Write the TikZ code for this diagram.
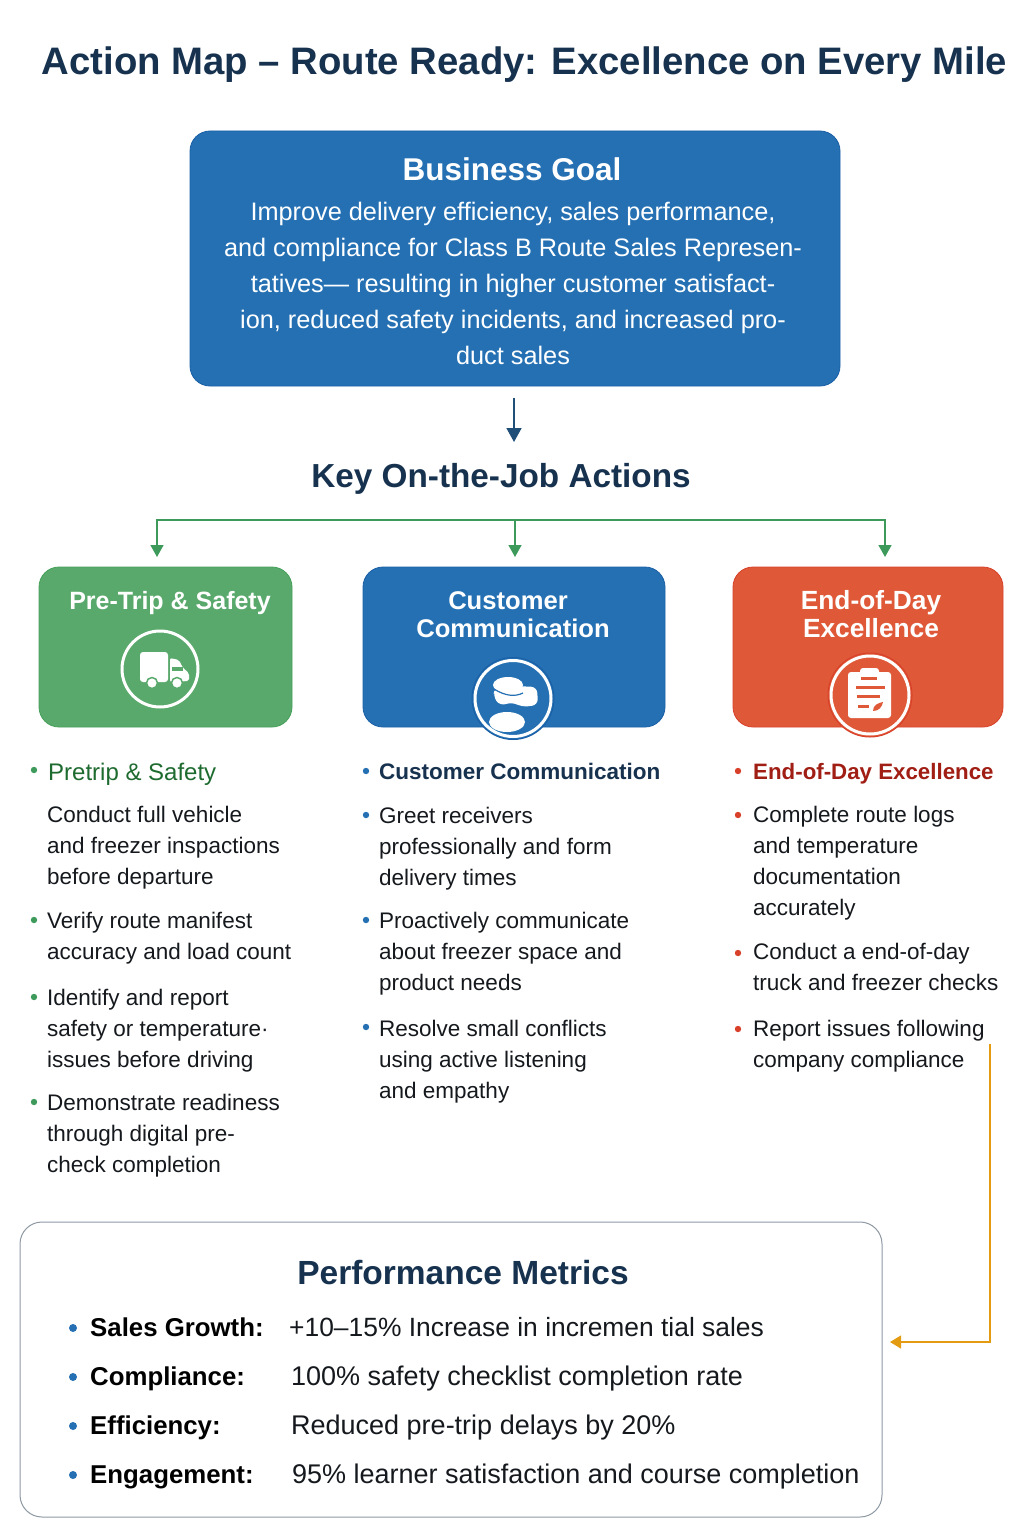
\documentclass[tikz,border=0pt]{standalone}
\usepackage{fontspec}
\setmainfont{Liberation Sans}
\usetikzlibrary{arrows.meta,calc}
\definecolor{navy}{HTML}{17324F}
\definecolor{anavy}{HTML}{1F4E79}
\definecolor{cblue}{HTML}{2470B3}
\definecolor{cbluee}{HTML}{1A5FA6}
\definecolor{cgreen}{HTML}{5AA96C}
\definecolor{cgreene}{HTML}{45A05A}
\definecolor{cred}{HTML}{DF5938}
\definecolor{crede}{HTML}{D8402A}
\definecolor{lgreen}{HTML}{3D9A5B}
\definecolor{dgreen}{HTML}{1E6B30}
\definecolor{dred}{HTML}{A01E14}
\definecolor{cgrey}{HTML}{8E99A3}
\definecolor{corange}{HTML}{E39C12}
\definecolor{bodyt}{HTML}{15191D}
\newcommand{\fs}[1]{\fontsize{#1}{#1}\selectfont}
\tikzset{
  card/.style={rounded corners=20,line width=0.8},
  ring/.style={draw=white,line width=3},
  item/.style={inner sep=0,anchor=north west,align=left,text=bodyt,font=\fontsize{22.5}{31}\selectfont},
  head/.style={inner sep=0,anchor=base west},
  met label/.style={inner sep=0,anchor=base west,font=\fs{25.8}\bfseries,text=black},
  met val/.style={inner sep=0,anchor=base west,font=\fs{27},text=bodyt},
  gline/.style={draw=lgreen,line width=1.5},
  garrow/.style={gline,-{Triangle[length=12,width=13]}},
}
\begin{document}
\begin{tikzpicture}[x=1pt,y=-1pt]
\useasboundingbox (0,0) rectangle (1024,1536);
\fill[white] (0,0) rectangle (1024,1536);
% title
\node[inner sep=0,anchor=base,font=\fs{38.3}\bfseries,text=navy] (title) at (524.5,75) {Action Map – Route Ready: Excellence on Every Mile};
% goal
\draw[card,fill=cblue,draw=cbluee] (190,131) rectangle (840,386);
\coordinate (goalbottom) at (514,398);
\node[inner sep=0,anchor=base,font=\fs{31.5}\bfseries,text=white] (goalhead) at (512,180) {Business Goal};
\node[inner sep=0,anchor=north,align=center,text=white,font=\fontsize{25.3}{36}\selectfont] (goaltext) at (513,202) {Improve delivery efficiency, sales performance,\\and compliance for Class B Route Sales Represen-\\tatives— resulting in higher customer satisfact-\\ion, reduced safety incidents, and increased pro-\\duct sales};
% key actions
\node[inner sep=0,anchor=base,font=\fs{33.3}\bfseries,text=navy] (keyhead) at (501,487) {Key On-the-Job Actions};
\coordinate (keytop) at (514,442);
\draw[anavy,line width=1.6,-{Triangle[length=14,width=15]}] (goalbottom) -- (keytop);
\coordinate (hub) at (515,520);
\coordinate (ta) at (157,557);
\coordinate (tb) at (515,557);
\coordinate (tc) at (885,557);
\draw[garrow] (hub) -| (ta);
\draw[garrow] (hub) -- (tb);
\draw[garrow] (hub) -| (tc);
% cards
\draw[card,fill=cgreen,draw=cgreene] (39,567) rectangle (292,727);
\draw[card,fill=cblue,draw=cbluee] (363,567) rectangle (665,727);
\draw[card,fill=cred,draw=crede] (733,567) rectangle (1003,727);
\node[inner sep=0,anchor=base,font=\fs{25}\bfseries,text=white] (ca) at (170,609) {Pre-Trip \& Safety};
\node[inner sep=0,anchor=north,align=center,font=\fontsize{25.6}{28}\bfseries\selectfont,text=white] (cb) at (513,591) {Customer\hspace*{10pt}\\Communication};
\node[inner sep=0,anchor=north,align=center,font=\fontsize{26.3}{28}\bfseries\selectfont,text=white] (cc) at (871,590) {End-of-Day\\Excellence};
% truck icon
\draw[ring] (160,669) circle (38);
\fill[white,rounded corners=3] (140,652) rectangle (168,682);
\fill[white,rounded corners=2] (170,658) -- (179,660) -- (183,668) -- (189,673) -- (189,681) -- (170,682) -- cycle;
\fill[cgreen] (172,667) rectangle (183,671);
\fill[white,draw=cgreen,line width=1.5] (152,683) circle (5.5);
\fill[white,draw=cgreen,line width=1.5] (177,683) circle (5.5);
% people icon
\fill[cblue,draw=cbluee,line width=1] (513,698.5) circle (41);
\draw[ring] (513,698.5) circle (38);
\fill[white,rounded corners=6] (515,686) -- (537,687) -- (538,705) -- (522,707) -- (512,702) -- (500,706) -- (493,696) -- (495,688) -- cycle;
\fill[white] (508,685) ellipse (15 and 8);
\draw[cblue,line width=1.2] (494,689) .. controls (505,696) and (515,697) .. (523,693);
\fill[white] (507,722) ellipse (18 and 10);
% clipboard icon
\fill[cred,draw=crede,line width=1] (870,695) circle (42);
\draw[ring] (870,695) circle (39);
\fill[white,rounded corners=3] (848,672) rectangle (891,718);
\fill[white,rounded corners=3] (860,668) rectangle (879,676);
\fill[cred] (861,677) rectangle (877,680);
\fill[cred] (856,686) rectangle (885,689);
\fill[cred] (857,695) rectangle (880,698);
\fill[cred] (858,705) rectangle (869,707.5);
\fill[cred] (873,711) .. controls (873,705) and (878,703) .. (883,702) .. controls (882,707) and (879,711) .. cycle;
% column 1
\fill[lgreen] (34,770) circle (3.2) (34,920) circle (3.2) (34,997) circle (3.2) (34,1102) circle (3.2);
\node[head,font=\fs{24},text=dgreen] (ha) at (48,780) {Pretrip \& Safety};
\node[item] (a1) at (47,806) {Conduct full vehicle\\and freezer inspactions\\before departure};
\node[item] (a2) at (47,912) {Verify route manifest\\accuracy and load count};
\node[item] (a3) at (47,989) {Identify and report\\safety or temperature·\\issues before driving};
\node[item] (a4) at (47,1094) {Demonstrate readiness\\through digital pre-\\check completion};
% column 2
\fill[cblue] (366,771) circle (3.2) (366,815) circle (3.2) (366,920) circle (3.2) (366,1027) circle (3.2);
\node[head,font=\fs{22.5}\bfseries,text=navy] (hb) at (379,779) {Customer Communication};
\node[item] (b1) at (379,807) {Greet receivers\\professionally and form\\delivery times};
\node[item] (b2) at (379,912) {Proactively communicate\\about freezer space and\\product needs};
\node[item] (b3) at (379,1020) {Resolve small conflicts\\using active listening\\and empathy};
% column 3
\fill[crede] (738,771) circle (3.2) (738,815) circle (3.2) (738,953) circle (3.2) (738,1029) circle (3.2);
\node[head,font=\fs{22.3}\bfseries,text=dred] (hc) at (753,779) {End-of-Day Excellence};
\node[item] (c1) at (753,806) {Complete route logs\\and temperature\\documentation\\accurately};
\node[item] (c2) at (753,943) {Conduct a end-of-day\\truck and freezer checks};
\node[item] (c3) at (753,1020) {Report issues following\\company compliance};
% metrics
\draw[cgrey,line width=1,rounded corners=22] (20,1222) rectangle (882,1517);
\node[inner sep=0,anchor=base,font=\fs{33.5}\bfseries,text=navy] (mhead) at (463,1284) {Performance Metrics};
\fill[cblue] (73,1328) circle (4) (73,1377) circle (4) (73,1426) circle (4) (73,1475) circle (4);
\node[met label] (m1) at (90,1336) {Sales Growth:};
\node[met val,font=\fs{26.4}] (v1) at (289,1336) {+10–15\% Increase in incremen tial sales};
\node[met label] (m2) at (90,1385) {Compliance:};
\node[met val] (v2) at (291,1385) {100\% safety checklist completion rate};
\node[met label] (m3) at (90,1434) {Efficiency:};
\node[met val] (v3) at (291,1434) {Reduced pre-trip delays by 20\%};
\node[met label] (m4) at (90,1483) {Engagement:};
\node[met val] (v4) at (292,1483) {95\% learner satisfaction and course completion};
\coordinate (os) at (990,1044);
\coordinate (oe) at (890,1342);
\draw[corange,line width=1.3,-{Triangle[length=11,width=13]}] (os) |- (oe);
\end{tikzpicture}
\end{document}
